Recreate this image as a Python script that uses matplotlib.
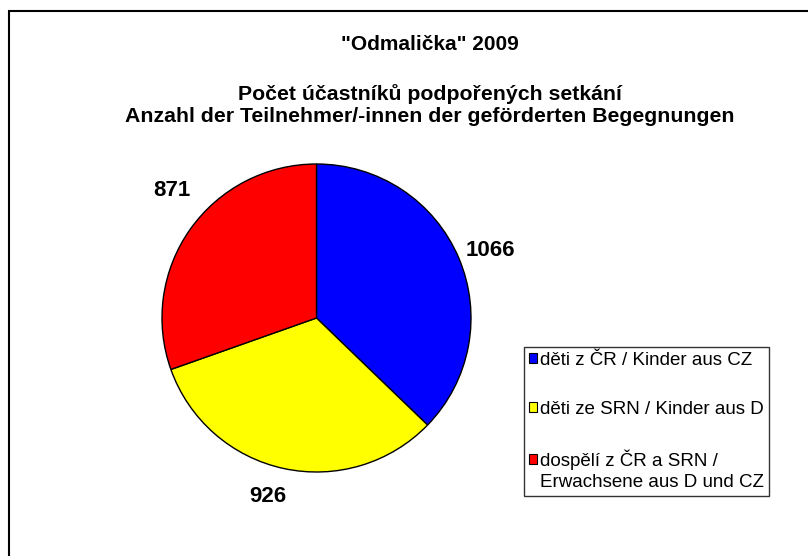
import numpy as np
import matplotlib.pyplot as plt
from matplotlib.patches import Rectangle
from matplotlib.legend_handler import HandlerPatch

plt.rcParams['font.family'] = ['Liberation Sans', 'DejaVu Sans']

# data
labels = ['děti z ČR / Kinder aus CZ',
          'děti ze SRN / Kinder aus D',
          'dospělí z ČR a SRN /\nErwachsene aus D und CZ']
values = [1066, 926, 871]
colors = ['#0000ff', '#ffff00', '#ff0000']
title_lines = ['"Odmalička" 2009',
               'Počet účastníků podpořených setkání\nAnzahl der Teilnehmer/-innen der geförderten Begegnungen']

# value label placement (radius, angle nudge in degrees), like Excel puts them
lab_r = [1.21, 1.2, 1.25]
lab_da = [-1.7, -3.1, -6.2]

W, H = 808, 556
fig = plt.figure(figsize=(W / 100, H / 100), dpi=100)

# outer chart frame (only top/left edges visible in the crop)
fig.patches.append(Rectangle((9 / W, -0.2), 1.5, 1 - 11 / H + 0.2,
                             transform=fig.transFigure, fill=False,
                             edgecolor='black', linewidth=1.5))

fig.text(430 / W, 1 - 45 / H, title_lines[0], ha='center', va='center',
         fontsize=15, fontweight='bold')
fig.text(430 / W, 1 - 105 / H, title_lines[1], ha='center', va='center',
         fontsize=15.3, fontweight='bold', linespacing=1.2)

ax = fig.add_axes([162 / W, 1 - 472 / H, 309 / W, 308 / H])
wedges, texts = ax.pie(values, colors=colors, startangle=90, counterclock=False,
                       labels=[str(v) for v in values], labeldistance=1.2,
                       wedgeprops=dict(edgecolor='black', linewidth=1),
                       textprops=dict(fontsize=16, fontweight='bold'))
for w, t, r, da in zip(wedges, texts, lab_r, lab_da):
    a = np.deg2rad((w.theta1 + w.theta2) / 2 + da)
    t.set_position((r * np.cos(a), r * np.sin(a)))
    t.set_ha('center')
    t.set_va('center')
ax.set_xlim(-1, 1)
ax.set_ylim(-1, 1)
ax.set_aspect('auto')


# the two-line entry keeps its box next to the first line
def top_box(legend, orig_handle, xdescent, ydescent, width, height, fontsize):
    return Rectangle((-xdescent, -ydescent + 8), width, height)


leg = fig.legend(wedges, labels, loc='upper left',
                 bbox_to_anchor=(524 / W, 1 - 347 / H), fontsize=13.5,
                 frameon=True, fancybox=False, edgecolor='black',
                 handlelength=0.45, handleheight=0.45, handletextpad=0.15,
                 labelspacing=1.7, borderpad=0.25, borderaxespad=0,
                 handler_map={wedges[2]: HandlerPatch(patch_func=top_box)})
leg.get_frame().set_linewidth(1)
for h in leg.legend_handles:
    h.set_linewidth(0.8)
for t in leg.get_texts():
    t.set_linespacing(1.3)

fig.savefig('out.png', dpi=100)
